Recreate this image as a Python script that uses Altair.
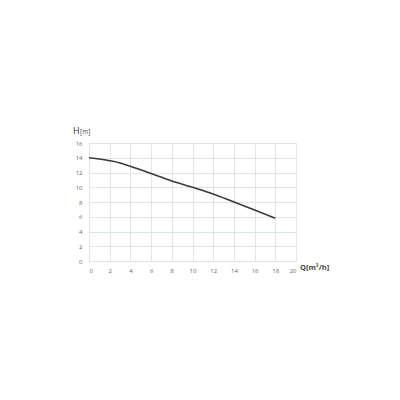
import altair as alt
import pandas as pd

q = [0, 2, 3, 4, 6, 8, 10, 12, 14, 16, 18]
h = [14.0, 13.6, 13.3, 12.85, 11.85, 10.85, 10.0, 9.1, 8.0, 6.9, 5.8]
x_ticks = [0, 2, 4, 6, 8, 10, 12, 14, 16, 18, 20]
y_ticks = [0, 2, 4, 6, 8, 10, 12, 14, 16]

df = pd.DataFrame({"Q": q, "H": h})
one = pd.DataFrame({"k": [0]})

line = alt.Chart(df).mark_line(color="#3a3a3a", strokeWidth=1.6, interpolate="monotone").encode(
    x=alt.X("Q:Q", scale=alt.Scale(domain=[0, 20], nice=False),
            axis=alt.Axis(values=x_ticks, title=None, grid=True, gridColor="#e4e4e4",
                          ticks=False, domain=False, labelFontSize=6, labelColor="#666",
                          labelPadding=6, labelFont="Open Sans")),
    y=alt.Y("H:Q", scale=alt.Scale(domain=[0, 16], nice=False),
            axis=alt.Axis(values=y_ticks, title=None, grid=True,
                          gridColor={"condition": {"test": "datum.value == 4", "value": "#cde8dc"}, "value": "#e4e4e4"},
                          ticks=False, domain=False, labelFontSize=6, labelColor="#666",
                          labelPadding=7, labelFont="Open Sans")),
)

tb = alt.Chart(one)
h_title = tb.mark_text(text="H", fontSize=9, color="#333", align="left", baseline="alphabetic",
                       font="Open Sans").encode(x=alt.value(-16), y=alt.value(-9))
m_title = tb.mark_text(text="[m]", fontSize=6.5, color="#444", align="left", baseline="alphabetic",
                       font="Open Sans").encode(x=alt.value(-9), y=alt.value(-9))
q_title = tb.mark_text(text="Q[m³/h]", fontSize=7.5, fontWeight="bold", color="#444", align="left",
                       baseline="middle", font="Open Sans").encode(x=alt.value(211), y=alt.value(125))

chart = alt.layer(line, h_title, m_title, q_title).properties(
    width=207, height=118,
    autosize=alt.AutoSizeParams(type="none"),
    padding={"left": 81, "top": 135, "right": 60, "bottom": 60},
).configure_view(stroke=None).configure(background="white")

chart.save("out.html", embed_options={"renderer": "svg", "actions": False})
